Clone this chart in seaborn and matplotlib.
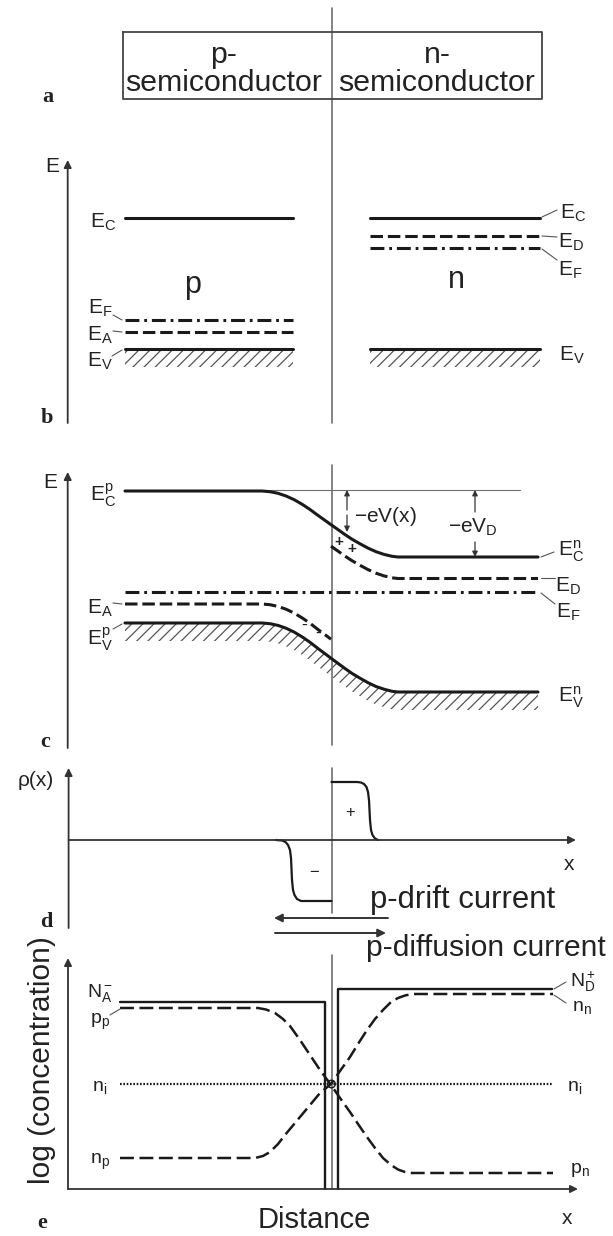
import numpy as np
import pandas as pd
import seaborn as sns
import matplotlib.pyplot as plt

sns.set_theme(style='white')
plt.rcParams['font.family'] = ['Liberation Sans', 'DejaVu Sans']
plt.rcParams['mathtext.fontset'] = 'custom'
plt.rcParams['mathtext.rm'] = 'Liberation Sans'
plt.rcParams['mathtext.it'] = 'Liberation Sans:italic'
plt.rcParams['lines.scale_dashes'] = False
plt.rcParams['hatch.linewidth'] = 0.9
plt.rcParams['hatch.color'] = '#555555'

INK = '#1a1a1a'
GREY = '#707070'
TXT = '#222222'

# ---- data, in picture pixels (y grows downwards) ----
junction_x = 331.5
junction_spans = [(8, 423), (465, 745), (768, 913), (955, 1189)]

# a) header box
box_x = [122.7, 542]
box_y = [32, 99]
header_top = ['p-', 'n-']
header_x = [224, 437]

# b) flat bands, separated semiconductors
b_p_x = [125, 293]
b_n_x = [370, 540]
b_p_levels = [217.7, 320, 332, 349.3]      # E_C, E_F, E_A, E_V
b_n_levels = [217.7, 236.3, 248, 349.3]    # E_C, E_D, E_F, E_V

# c) bent bands in the junction
c_x = [125, 262, 270, 278, 286, 294, 302, 310, 318, 325, 331,
       338, 345, 352, 360, 368, 376, 384, 392, 398, 538]
c_ec = [491, 491, 491.7, 493.3, 496, 499.6, 504.2, 509.5, 515.4, 520.4, 524.7,
        529.6, 534.6, 539.2, 543.8, 548.1, 551.7, 554.4, 556.3, 557, 557]
c_ev = [623, 623, 623.7, 625.4, 628.2, 632, 636.8, 642.3, 648.5, 653.7, 658.2,
        663.4, 668.5, 673.4, 678.2, 682.7, 686.5, 689.2, 691.3, 692, 692]
c_ea_x = [125, 262, 270, 278, 286, 294, 302, 310, 318, 325, 331]
c_ea = [604, 604, 604.7, 606.4, 609.2, 613, 617.8, 623.3, 629.5, 634.7, 639.2]
c_ed_x = [331, 338, 345, 352, 360, 368, 376, 384, 392, 398, 538]
c_ed = [546.2, 551.1, 556.1, 560.7, 565.3, 569.6, 573.2, 575.9, 577.8, 578.5, 578.5]
c_ef_x = [125, 538]
c_ef = [592, 592]

# d) space charge density
rho_pos_x = [331.5, 357, 361, 364, 366.5, 368, 369, 370, 371, 372.5, 375, 378]
rho_pos_y = [782, 782, 782.5, 784, 787, 792, 800, 820, 830, 835, 838.5, 840]
rho_neg_x = [276, 282, 285.5, 288, 290, 291, 292, 293, 294.5, 297, 301, 331.5]
rho_neg_y = [840, 840.5, 842, 845, 850, 858, 880, 890, 895, 899, 901, 901]

# e) log concentrations
na_x = [120, 325, 325]
na_y = [1002, 1002, 1189]
nd_x = [338, 338, 552]
nd_y = [1189, 989, 989]
pp_x = [120, 258, 266, 275, 283, 290, 300, 310, 320, 331, 340, 350, 358, 367,
        375, 383, 391, 398, 405, 412, 553]
pp_y = [1008, 1008, 1009.5, 1013, 1019, 1026, 1040, 1055, 1070, 1085, 1098, 1112,
        1124, 1137, 1148, 1158, 1165, 1169.5, 1172, 1173, 1173]
np_x = [120, 255, 263, 270, 278, 285, 300, 310, 320, 331, 340, 350, 358, 367,
        375, 383, 391, 398, 405, 412, 553]
np_y = [1158, 1158, 1156, 1152, 1144, 1135, 1117, 1105, 1093, 1084, 1071, 1057,
        1044, 1030, 1019, 1010, 1002, 998, 995.5, 994, 994]
ni_x = [120, 553]
ni_y = [1084, 1084]

DASH = (0, (9, 3.5))
DASHDOT = (0, (10, 3.5, 2, 3.5))
DASH_E = (0, (10, 4))
DOT = (0, (1.2, 1.2))


def m(s):
    return r'$\mathregular{' + s + '}$'


def curve(ax, xs, ys, ls='-', lw=2.2, color=INK):
    df = pd.DataFrame({'x': xs, 'y': ys})
    sns.lineplot(data=df, x='x', y='y', ax=ax, sort=False, estimator=None,
                 color=color, linewidth=lw, linestyle=ls)


def hatch_under(ax, xs, ys, depth=18):
    ys = np.asarray(ys, dtype=float)
    ax.fill_between(xs, ys, ys + depth, facecolor='none', edgecolor='#555555',
                    hatch='///', linewidth=0)


def arrow(ax, tail, tip, lw=1.3, color='#333333', ms=11):
    ax.annotate('', xy=tip, xytext=tail,
                arrowprops=dict(arrowstyle='-|>', lw=lw, color=color,
                                mutation_scale=ms, shrinkA=0, shrinkB=0))


def leader(ax, p0, p1):
    ax.plot([p0[0], p1[0]], [p0[1], p1[1]], color='#555555', lw=0.8)


fig = plt.figure(figsize=(6.13, 12.36), dpi=100)
ax = fig.add_axes([0, 0, 1, 1])

# junction line through every panel
for y0, y1 in junction_spans:
    curve(ax, [junction_x, junction_x], [y0, y1], lw=1.2, color=GREY)

# ---------- a ----------
ax.plot([box_x[0], box_x[1], box_x[1], box_x[0], box_x[0]],
        [box_y[0], box_y[0], box_y[1], box_y[1], box_y[0]], color='#444444', lw=1.3)
for hx, top in zip(header_x, header_top):
    ax.text(hx, 55, top, ha='center', va='center', fontsize=21.8, color=TXT)
    ax.text(hx, 83, 'semiconductor', ha='center', va='center', fontsize=21.8, color=TXT)

# ---------- b ----------
arrow(ax, (67.7, 423), (67.7, 160))
ax.text(52, 167, 'E', ha='center', va='center', fontsize=15, color=TXT)
styles_p = ['-', DASHDOT, DASH, '-']
styles_n = ['-', DASH, DASHDOT, '-']
for lev, ls in zip(b_p_levels, styles_p):
    curve(ax, b_p_x, [lev, lev], ls=ls)
for lev, ls in zip(b_n_levels, styles_n):
    curve(ax, b_n_x, [lev, lev], ls=ls)
hatch_under(ax, b_p_x, [b_p_levels[3]] * 2)
hatch_under(ax, b_n_x, [b_n_levels[3]] * 2)
ax.text(193, 285, 'p', ha='center', va='center', fontsize=22, color=TXT)
ax.text(456, 280, 'n', ha='center', va='center', fontsize=22, color=TXT)
ax.text(103, 222, m('E_C'), ha='center', va='center', fontsize=15, color=TXT)
ax.text(100, 308, m('E_F'), ha='center', va='center', fontsize=15, color=TXT)
ax.text(100, 335, m('E_A'), ha='center', va='center', fontsize=15, color=TXT)
ax.text(100, 361, m('E_V'), ha='center', va='center', fontsize=15, color=TXT)
leader(ax, (113, 315), (122, 320))
leader(ax, (113, 331), (122, 332))
leader(ax, (112, 356), (122, 350))
ax.text(573, 213, m('E_C'), ha='center', va='center', fontsize=15, color=TXT)
ax.text(571, 242, m('E_D'), ha='center', va='center', fontsize=15, color=TXT)
ax.text(570, 270, m('E_F'), ha='center', va='center', fontsize=15, color=TXT)
ax.text(572, 355, m('E_V'), ha='center', va='center', fontsize=15, color=TXT)
leader(ax, (542, 217), (557, 210))
leader(ax, (542, 236), (557, 237))
leader(ax, (542, 249), (557, 260))

# ---------- c ----------
arrow(ax, (67.7, 748), (67.7, 472))
ax.text(50, 483, 'E', ha='center', va='center', fontsize=15, color=TXT)
curve(ax, [267, 520], [490, 490], lw=0.8, color=GREY)
curve(ax, c_x, c_ec)
curve(ax, c_x, c_ev)
hatch_under(ax, c_x, c_ev)
curve(ax, c_ea_x, c_ea, ls=DASH)
curve(ax, c_ed_x, c_ed, ls=DASH)
curve(ax, c_ef_x, c_ef, ls=DASHDOT)
arrow(ax, (347, 510), (347, 490), lw=0.9, ms=8)
arrow(ax, (347, 515), (347, 532), lw=0.9, ms=8)
ax.text(385, 516, m('-eV(x)'), ha='center', va='center', fontsize=15, color=TXT)
arrow(ax, (475, 512), (475, 490), lw=0.9, ms=8)
arrow(ax, (475, 542), (475, 557), lw=0.9, ms=8)
ax.text(473, 527, m('-eV_D'), ha='center', va='center', fontsize=15, color=TXT)
ax.text(339, 542, '+', ha='center', va='center', fontsize=11, fontweight='bold', color=TXT)
ax.text(352, 549, '+', ha='center', va='center', fontsize=11, fontweight='bold', color=TXT)
ax.text(304, 625, '-', ha='center', va='center', fontsize=13, color=TXT)
ax.text(318, 633, '-', ha='center', va='center', fontsize=13, color=TXT)
ax.text(103, 495, m('E_C^p'), ha='center', va='center', fontsize=15, color=TXT)
ax.text(100, 608, m('E_A'), ha='center', va='center', fontsize=15, color=TXT)
ax.text(100, 639, m('E_V^p'), ha='center', va='center', fontsize=15, color=TXT)
leader(ax, (113, 603), (122, 604))
leader(ax, (113, 629), (122, 624))
ax.text(571, 551, m('E_C^n'), ha='center', va='center', fontsize=15, color=TXT)
ax.text(568, 586, m('E_D'), ha='center', va='center', fontsize=15, color=TXT)
ax.text(568, 612, m('E_F'), ha='center', va='center', fontsize=15, color=TXT)
ax.text(571, 697, m('E_V^n'), ha='center', va='center', fontsize=15, color=TXT)
leader(ax, (541, 557), (554, 552))
leader(ax, (541, 578), (555, 578))
leader(ax, (541, 593), (555, 604))

# ---------- d ----------
arrow(ax, (68.6, 928), (68.6, 768))
arrow(ax, (68.6, 840), (576, 840))
ax.text(36, 780, 'ρ(x)', ha='center', va='center', fontsize=15, color=TXT)
ax.text(569, 865, 'x', ha='center', va='center', fontsize=15, color=TXT)
curve(ax, rho_pos_x, rho_pos_y, lw=1.6)
curve(ax, rho_neg_x, rho_neg_y, lw=1.6)
ax.text(350, 812, '+', ha='center', va='center', fontsize=12, color=TXT)
ax.text(314, 872, '−', ha='center', va='center', fontsize=12, color=TXT)
ax.text(370, 900, 'p-drift current', ha='left', va='center', fontsize=22.3, color=TXT)
arrow(ax, (388, 918), (274, 918), lw=1.4, ms=12)
arrow(ax, (275, 933), (386, 933), lw=1.4, ms=12)
ax.text(366, 948, 'p-diffusion current', ha='left', va='center', fontsize=21.6, color=TXT)

# ---------- e ----------
arrow(ax, (68, 1189), (68, 958))
arrow(ax, (68, 1189), (578, 1189))
curve(ax, na_x, na_y, lw=1.7)
curve(ax, nd_x, nd_y, lw=1.7)
curve(ax, pp_x, pp_y, ls=DASH_E, lw=1.8)
curve(ax, np_x, np_y, ls=DASH_E, lw=1.8)
curve(ax, ni_x, ni_y, ls=DOT, lw=1.6)
ax.scatter([junction_x], [1084], s=30, facecolors='none', edgecolors=INK, linewidths=1.0, zorder=5)
ax.text(100, 993, m('N_A^-'), ha='center', va='center', fontsize=14, color=TXT)
ax.text(100, 1022, m('p_p'), ha='center', va='center', fontsize=14, color=TXT)
ax.text(100, 1088, m('n_i'), ha='center', va='center', fontsize=14, color=TXT)
ax.text(100, 1162, m('n_p'), ha='center', va='center', fontsize=14, color=TXT)
leader(ax, (110, 1015), (120, 1009))
ax.text(583, 982, m('N_D^+'), ha='center', va='center', fontsize=14, color=TXT)
ax.text(582, 1008, m('n_n'), ha='center', va='center', fontsize=14, color=TXT)
ax.text(575, 1088, m('n_i'), ha='center', va='center', fontsize=14, color=TXT)
ax.text(580, 1170, m('p_n'), ha='center', va='center', fontsize=14, color=TXT)
leader(ax, (554, 989), (566, 982))
leader(ax, (554, 995), (566, 1003))
ax.text(42, 1060, 'log (concentration)', rotation=90, ha='center', va='center',
        fontsize=21.5, color=TXT)
ax.text(314, 1220, 'Distance', ha='center', va='center', fontsize=21, color=TXT)
ax.text(567, 1218, 'x', ha='center', va='center', fontsize=15, color=TXT)

# panel letters
for letter, (lx, ly) in zip('abcde', [(48, 97), (47, 418), (45, 742), (46, 922), (42, 1223)]):
    ax.text(lx, ly, letter, ha='center', va='center', fontsize=16, fontweight='bold',
            family=['Liberation Serif', 'DejaVu Serif'], color=TXT)

ax.set_xlim(0, 613)
ax.set_ylim(1236, 0)
ax.axis('off')
fig.savefig('out.png', dpi=100, facecolor='white')
